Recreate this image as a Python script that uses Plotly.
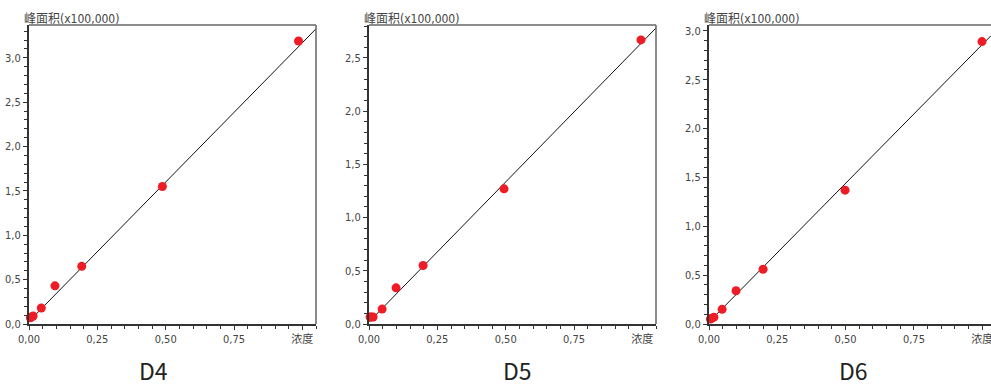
import plotly.graph_objects as go

# ---------------- data ----------------
panel_names = ["D4", "D5", "D6"]

d4_conc = [0.005, 0.01, 0.015, 0.045, 0.095, 0.193, 0.488, 0.986]
d4_area = [0.07, 0.08, 0.09, 0.18, 0.43, 0.65, 1.55, 3.19]
d5_conc = [0.004, 0.008, 0.015, 0.048, 0.099, 0.198, 0.494, 0.995]
d5_area = [0.066, 0.066, 0.066, 0.14, 0.34, 0.55, 1.27, 2.67]
d6_conc = [0.005, 0.01, 0.018, 0.048, 0.099, 0.198, 0.498, 0.999]
d6_area = [0.05, 0.06, 0.07, 0.15, 0.34, 0.56, 1.37, 2.89]

# regression lines (slope, intercept)
d4_fit = (3.14, 0.03)
d5_fit = (2.63, 0.02)
d6_fit = (2.84, 0.02)

x_tickvals = [0.0, 0.25, 0.5, 0.75, 1.0]
x_ticktext = ["0,00", "0,25", "0,50", "0,75", "浓度"]
y_title = "峰面积(x100,000)"

conc = [d4_conc, d5_conc, d6_conc]
area = [d4_area, d5_area, d6_area]
fits = [d4_fit, d5_fit, d6_fit]

# ---------------- layout geometry ----------------
W, H = 991, 386
x_dom = [(29 / W, 316 / W), (369 / W, 656 / W), (709 / W, 1.0)]
y_dom = (62 / H, 361 / H)
x_rng = [(0, 1.05), (0, 1.05), (0, 1.032)]
y_rng = [(0, 3.37), (0, 2.81), (0, 3.06)]

AX = "#333333"
TXT = "#444444"
FONT = "Liberation Sans Narrow, DejaVu Sans Condensed, Noto Sans CJK SC, sans-serif"

fig = go.Figure()
layout = dict(
    width=W, height=H, autosize=False,
    margin=dict(l=0, r=0, t=0, b=0, autoexpand=False),
    paper_bgcolor="white", plot_bgcolor="white",
    showlegend=False,
    separators=",.",
    font=dict(family=FONT, size=11, color=TXT),
)
annotations = []
shapes = []

for i in range(3):
    sfx = "" if i == 0 else str(i + 1)
    xa, ya = "x" + sfx, "y" + sfx
    slope, icpt = fits[i]
    xr = x_rng[i]
    fig.add_trace(go.Scatter(
        x=[xr[0], xr[1]], y=[icpt + slope * xr[0], icpt + slope * xr[1]],
        mode="lines", line=dict(color="#111111", width=1),
        xaxis=xa, yaxis=ya, hoverinfo="skip", cliponaxis=True))
    fig.add_trace(go.Scatter(
        x=conc[i], y=area[i], mode="markers",
        marker=dict(color="#ee1c25", size=9, line=dict(width=0)),
        xaxis=xa, yaxis=ya, cliponaxis=False))

    layout["xaxis" + sfx] = dict(
        domain=list(x_dom[i]), range=list(xr), anchor=ya,
        showgrid=False, zeroline=False, automargin=False,
        showline=True, linecolor=AX, linewidth=2, mirror=False,
        ticks="outside", ticklen=4, tickwidth=1, tickcolor=AX,
        tickvals=x_tickvals, ticktext=x_ticktext,
        ticklabeloverflow="allow",
        tickfont=dict(family=FONT, size=11, color=TXT),
        minor=dict(dtick=0.05, tick0=0, ticks="outside", ticklen=3, tickcolor=AX, showgrid=False),
        fixedrange=True,
    )
    layout["yaxis" + sfx] = dict(
        domain=list(y_dom), range=list(y_rng[i]), anchor=xa,
        showgrid=False, zeroline=False, automargin=False,
        showline=True, linecolor=AX, linewidth=2, mirror=False,
        ticks="outside", ticklen=4, tickwidth=1, tickcolor=AX,
        dtick=0.5, tick0=0, tickformat=".1f",
        tickfont=dict(family=FONT, size=11, color=TXT),
        minor=dict(dtick=0.1, tick0=0, ticks="outside", ticklen=3, tickcolor=AX, showgrid=False),
        fixedrange=True,
    )
    # top border
    shapes.append(dict(type="line", xref=xa + " domain", yref=ya + " domain",
                       x0=0, x1=1, y0=1, y1=1, line=dict(color="#666666", width=1.5)))
    # right border (not visible on the cut-off last panel)
    if i < 2:
        shapes.append(dict(type="line", xref=xa + " domain", yref=ya + " domain",
                           x0=1, x1=1, y0=0, y1=1, line=dict(color="#666666", width=1.5)))
    # y-axis title above the axis
    annotations.append(dict(
        text=y_title, xref="paper", yref="paper",
        x=x_dom[i][0] - 7 / W, y=(H - 19) / H, xanchor="left", yanchor="middle",
        showarrow=False, font=dict(family=FONT, size=12, color=TXT)))
    # panel label
    annotations.append(dict(
        text=panel_names[i], xref="paper", yref="paper",
        x=[153, 517, 853][i] / W, y=-3 / H, xanchor="center", yanchor="bottom",
        showarrow=False, font=dict(family="Noto Sans CJK SC, Noto Sans, sans-serif", size=23, color="#222222")))

layout["annotations"] = annotations
layout["shapes"] = shapes
fig.update_layout(**layout)
fig.write_html("out.html", config={"displayModeBar": False},
               post_script="document.body.style.margin='0';document.body.style.overflow='hidden';")
